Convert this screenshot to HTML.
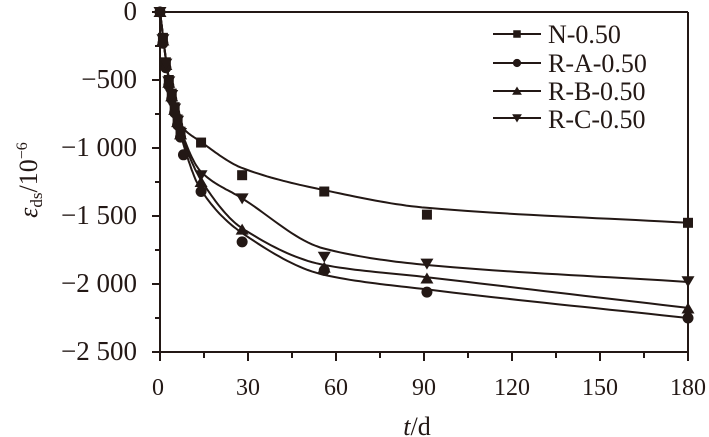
<!DOCTYPE html><html><head><meta charset="utf-8"><style>body{margin:0;background:#fff}svg{display:block;font-family:"Liberation Serif",serif;fill:#231815}</style></head><body>
<svg id="s" width="709" height="437" viewBox="0 0 709 437" xmlns="http://www.w3.org/2000/svg">
<g stroke="#231815" stroke-width="2" fill="none">
<line x1="160" y1="12" x2="688" y2="12"/><line x1="688" y1="12" x2="688" y2="352"/>
<line x1="160" y1="12" x2="160" y2="352"/><line x1="160" y1="352" x2="688" y2="352"/>
</g>
<g id="ticks" stroke="#231815" stroke-width="2"></g>
<g font-size="27" text-anchor="end">
<text x="137" y="20">0</text><text x="137" y="88">−500</text><text x="137" y="156">−1 000</text><text x="137" y="224">−1 500</text><text x="137" y="292">−2 000</text><text x="137" y="360">−2 500</text>
</g>
<g font-size="24" text-anchor="middle">
<text x="158" y="395">0</text><text x="248" y="395">30</text><text x="336" y="395">60</text><text x="424" y="395">90</text><text x="512" y="395">120</text><text x="600" y="395">150</text><text x="688" y="395">180</text>
<text x="417" y="435" font-size="26"><tspan font-style="italic">t</tspan>/d</text>
</g>
<text transform="translate(37,180) rotate(-90)" font-size="26" text-anchor="middle"><tspan font-style="italic">ε</tspan><tspan font-size="17" dy="5">ds</tspan><tspan dy="-5">/10</tspan><tspan font-size="16" dy="-10">−6</tspan></text>
<g id="curves" fill="none" stroke="#231815" stroke-width="2"></g>
<g id="marks"></g>
<g font-size="26">
<text x="548" y="43">N-0.50</text><text x="548" y="72">R-A-0.50</text><text x="548" y="100">R-B-0.50</text><text x="548" y="128">R-C-0.50</text>
</g>
<g id="leg" stroke="#231815" stroke-width="2"></g>
</svg>
<script>
const X=t=>160+t*528/180,Y=v=>12-v*0.136,NS="http://www.w3.org/2000/svg";
function el(p,tag,a){const e=document.createElementNS(NS,tag);for(const k in a)e.setAttribute(k,a[k]);document.getElementById(p).appendChild(e);return e;}
for(let v=0;v>=-2500;v-=250){el("ticks","line",{x1:160,x2:v%500==0?152:155,y1:Y(v),y2:Y(v)});}
for(let t=0;t<=180;t+=15){el("ticks","line",{y1:352,y2:t%30==0?361:358,x1:X(t),x2:X(t)});}
const fits={
N:[[0,0],[3,-480],[7,-830],[14,-955],[28,-1147],[56,-1310],[91,-1440],[180,-1550]],
A:[[0,0],[3,-500],[7,-900],[14,-1310],[28,-1625],[56,-1933],[91,-2040],[180,-2250]],
B:[[0,0],[3,-500],[7,-880],[14,-1235],[28,-1590],[56,-1860],[91,-1950],[180,-2176]],
C:[[0,0],[3,-490],[7,-860],[14,-1175],[28,-1370],[56,-1740],[91,-1860],[180,-1985]]};
function path(p){const n=p.length,x=p.map(a=>a[0]),y=p.map(a=>a[1]);const d=[],m=[];
for(let i=0;i<n-1;i++)d.push((y[i+1]-y[i])/(x[i+1]-x[i]));
m[0]=d[0];m[n-1]=d[n-2];for(let i=1;i<n-1;i++){m[i]=d[i-1]*d[i]<=0?0:2/(1/d[i-1]+1/d[i]);}
let s="M"+X(x[0])+","+Y(y[0]);
for(let i=0;i<n-1;i++){const h=x[i+1]-x[i];for(let j=1;j<=20;j++){const t=j/20,t2=t*t,t3=t2*t;
const v=(2*t3-3*t2+1)*y[i]+(t3-2*t2+t)*h*m[i]+(-2*t3+3*t2)*y[i+1]+(t3-t2)*h*m[i+1];
s+=" L"+X(x[i]+t*h).toFixed(1)+","+Y(v).toFixed(1);}}return s;}
for(const k in fits)el("curves","path",{d:path(fits[k])});
const early=[[1,-190],[2,-370],[3,-500],[4,-600],[5,-700],[6,-790],[7,-880]];
const data={
N:early.concat([[0,0],[14,-960],[28,-1200],[56,-1320],[91,-1490],[180,-1550]]),
A:early.map(([t,v])=>[t,v-40]).concat([[0,0],[8,-1050],[14,-1320],[28,-1690],[56,-1900],[91,-2060],[180,-2250]]),
B:early.map(([t,v])=>[t,v-20]).concat([[0,0],[14,-1250],[28,-1600],[56,-1880],[91,-1960],[180,-2180]]),
C:early.map(([t,v])=>[t,v-10]).concat([[0,0],[14,-1200],[28,-1370],[56,-1800],[91,-1850],[180,-1980]])};
function mk(g,k,x,y,s){s=s||1;const f="#231815";if(k=="N")el(g,"rect",{x:x-5*s,y:y-5*s,width:10*s,height:10*s,fill:f,stroke:"none"});
else if(k=="A")el(g,"circle",{cx:x,cy:y,r:5.5*s,fill:f,stroke:"none"});
else if(k=="B")el(g,"polygon",{points:`${x},${y-6*s} ${x+6.5*s},${y+5*s} ${x-6.5*s},${y+5*s}`,fill:f,stroke:"none"});
else el(g,"polygon",{points:`${x},${y+6*s} ${x+6.5*s},${y-5*s} ${x-6.5*s},${y-5*s}`,fill:f,stroke:"none"});}
for(const k in data)for(const [t,v] of data[k])mk("marks",k,X(t),Y(v));
["N","A","B","C"].forEach((k,i)=>{const y=[34,63,91,118][i];el("leg","line",{x1:493,x2:541,y1:y,y2:y});mk("leg",k,517,y,0.75);});
</script>
</body></html>
